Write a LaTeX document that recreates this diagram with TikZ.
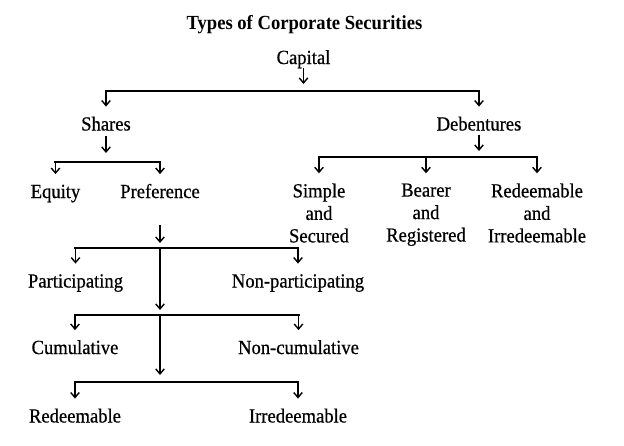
\documentclass[tikz,border=0pt]{standalone}
\usepackage{fontspec}
\setmainfont{Liberation Serif}[FakeStretch=0.93]
\newfontfamily\scanfont{Liberation Serif}[FakeStretch=0.93,FakeBold=0.6]
\usetikzlibrary{arrows.meta,positioning,calc}
\tikzset{box/.style={font=\scanfont\fontsize{20}{22.5}\selectfont,inner sep=0pt},
  head/.style={box,font=\bfseries\fontsize{20}{22.5}\selectfont,anchor=base},
  item/.style={box,text height=13.7pt,text depth=4pt,anchor=base},
  group/.style={box,align=center,anchor=north},
  flow/.style={-{Straight Barb[length=5pt,width=8.5pt]},line width=1.4pt},
  split/.style={line width=2.3pt,line cap=rect}}

\begin{document}
\begin{tikzpicture}[x=1pt,y=-1pt]
\useasboundingbox (0,0) rectangle (624,445);
\node[head] (title) at (304.5,29.5) {Types of Corporate Securities};
\node[item] (capital) at (303.5,64) {Capital};
\node[item] (shares) at (106,130.5) {Shares};
\node[item] (debentures) at (479,130.5) {Debentures};
\node[item] (equity) at (55.5,198) {Equity};
\node[item] (preference) at (160,198) {Preference};
\node[group] (simple) at (319,183.3) {Simple\\and\\Secured};
\node[group] (bearer) at (426,183.3) {Bearer\\and\\Registered};
\node[group] (redirr) at (537,183.3) {Redeemable\\and\\Irredeemable};
\node[item] (participating) at (75.5,287.5) {Participating};
\node[item] (nonpart) at (298,287.5) {Non-participating};
\node[item] (cumulative) at (75,354) {Cumulative};
\node[item] (noncum) at (298.5,354) {Non-cumulative};
\node[item] (redeem) at (75,422.5) {Redeemable};
\node[item] (irredeem) at (298,422.5) {Irredeemable};
% levels of the bars
\coordinate (cap-bar) at (0,91);
\coordinate (sh-bar) at (0,162);
\coordinate (deb-bar) at (0,157);
\coordinate (par-bar) at (0,248);
\coordinate (cum-bar) at (0,315);
\coordinate (red-bar) at (0,382);
\foreach \a/\b/\y in {shares/debentures/cap-bar,equity/preference/sh-bar,simple/redirr/deb-bar,participating/nonpart/par-bar,cumulative/noncum/cum-bar,redeem/irredeem/red-bar}
\draw[split] (\a |- \y) -- (\b |- \y);
\foreach \n/\y in {shares/cap-bar,debentures/cap-bar,equity/sh-bar,preference/sh-bar,simple/deb-bar,bearer/deb-bar,redirr/deb-bar,participating/par-bar,nonpart/par-bar,cumulative/cum-bar,noncum/cum-bar,redeem/red-bar,irredeem/red-bar}
\draw[flow,shorten >=10pt] (\n |- \y) -- (\n);
% arrows out of the parents
\draw[flow,shorten >=7pt] (capital) -- (capital |- cap-bar);
\draw[flow,shorten <=1.5pt,shorten >=9pt] (shares) -- (shares |- sh-bar);
\draw[flow,shorten >=6pt] (debentures) -- (debentures |- deb-bar);
\draw[flow,shorten <=23pt,shorten >=5pt] (preference) -- (preference |- par-bar);
\draw[flow,shorten >=5pt] (preference |- par-bar) -- (preference |- cum-bar);
\draw[flow,shorten >=7pt] (preference |- cum-bar) -- (preference |- red-bar);
\end{tikzpicture}
\end{document}
